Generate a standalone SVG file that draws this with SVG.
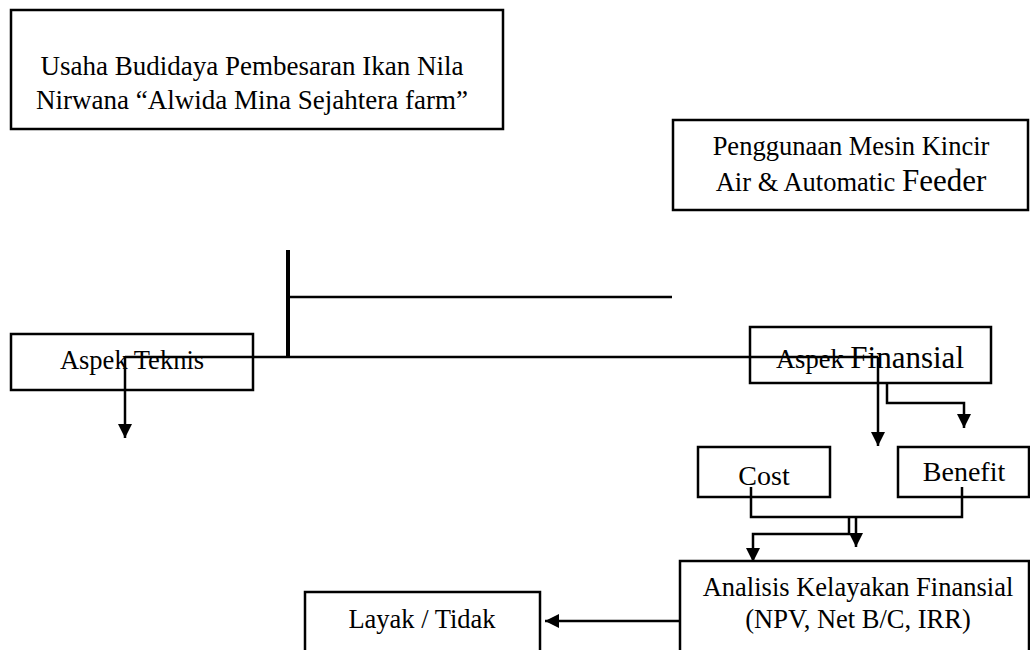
<svg xmlns="http://www.w3.org/2000/svg" width="1030" height="650" viewBox="0 0 1030 650">
<defs>
<style>
.box{fill:#fff;stroke:#000;stroke-width:2.5}
.t{font-family:"Liberation Serif","Times New Roman",serif;font-size:26.5px;fill:#000;text-anchor:middle}
.big{font-size:31px}
.ln{fill:none;stroke:#000;stroke-width:2.5}
</style>
<marker id="ah" viewBox="0 0 14 14" refX="14" refY="7" markerWidth="14" markerHeight="14" markerUnits="userSpaceOnUse" orient="auto">
<path d="M0,0 L14,7 L0,14 Z" fill="#000"/>
</marker>
</defs>
<rect width="1030" height="650" fill="#fff"/>
<g id="usaha">
<rect class="box" x="11" y="10" width="492" height="119"/>
<text class="t" x="252" y="75" style="font-size:27px">Usaha Budidaya Pembesaran Ikan Nila</text>
<text class="t" x="252" y="109" style="font-size:27px">Nirwana “Alwida Mina Sejahtera farm”</text>
</g>
<g id="penggunaan">
<rect class="box" x="673" y="120" width="355" height="90"/>
<text class="t" x="851" y="155">Penggunaan Mesin Kincir</text>
<text class="t" x="851" y="191">Air &amp; Automatic <tspan class="big">Feeder</tspan></text>
</g>
<g id="aspek-teknis">
<rect class="box" x="11" y="334" width="242" height="56"/>
</g>
<g id="aspek-finansial">
<rect class="box" x="750" y="327" width="241" height="56"/>
</g>
<g id="cost">
<rect class="box" x="698" y="447" width="132" height="50"/>
<text class="t" x="764" y="485" style="font-size:28px">Cost</text>
</g>
<g id="benefit">
<rect class="box" x="898" y="447" width="131" height="50"/>
<text class="t" x="964" y="481" style="font-size:28px">Benefit</text>
</g>
<g id="analisis">
<rect class="box" x="680" y="561" width="349" height="95"/>
<text class="t" x="858" y="596">Analisis Kelayakan Finansial</text>
<text class="t" x="858" y="628">(NPV, Net B/C, IRR)</text>
</g>
<g id="layak">
<rect class="box" x="305" y="592" width="235" height="65"/>
<text class="t" x="422" y="628">Layak / Tidak</text>
</g>
<g id="connectors">
<line x1="288" y1="250" x2="288" y2="357" stroke="#000" stroke-width="4"/>
<line class="ln" x1="288" y1="297" x2="672" y2="297"/>
<line class="ln" x1="125" y1="357" x2="878" y2="357"/>
<path class="ln" d="M125,357 V438" marker-end="url(#ah)"/>
<path class="ln" d="M878,357 V446" marker-end="url(#ah)"/>
<path class="ln" d="M887,383 V403 H964 V428" marker-end="url(#ah)"/>
<path class="ln" d="M751,487 V517 H962 V487"/>
<path class="ln" d="M856,517 V547" marker-end="url(#ah)"/>
<path class="ln" d="M849,517 V534 H753 V562" marker-end="url(#ah)"/>
<path class="ln" d="M680,621 H545" marker-end="url(#ah)"/>
</g>
<g id="labels-over">
<text class="t" x="132" y="369">Aspek Teknis</text>
<text class="t" x="870" y="368">Aspek <tspan class="big">Finansial</tspan></text>
</g>
</svg>
